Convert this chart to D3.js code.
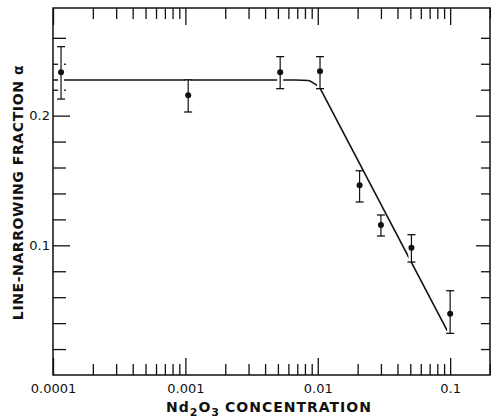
<!DOCTYPE html>
<html>
<head>
<meta charset="utf-8">
<script src="https://cdn.jsdelivr.net/npm/d3@7"></script>
<style>
  html, body { margin: 0; padding: 0; background: #fff; }
  svg { display: block; }
  .tick text { font-family: "DejaVu Sans", sans-serif; font-size: 13px; fill: #111; }
  .tick line { stroke: #111; stroke-width: 1.3; }
  .title { font-family: "DejaVu Sans", sans-serif; font-weight: bold; fill: #111; }
</style>
</head>
<body>
<svg id="chart" width="491" height="418"></svg>
<script>
// Measured line-narrowing fraction vs. Nd2O3 concentration
const concentration = [0.000115, 0.00105, 0.0052, 0.0104, 0.0207, 0.030, 0.051, 0.100];
const alpha         = [0.2334, 0.2157, 0.2334, 0.2342, 0.1463, 0.1157, 0.0982, 0.0473];
const alphaLow      = [0.2128, 0.2028, 0.2208, 0.2208, 0.1334, 0.1072, 0.0871, 0.0321];
const alphaHigh     = [0.2532, 0.2275, 0.2455, 0.2455, 0.1575, 0.1234, 0.1082, 0.0650];

// Guide curve: plateau with rounded knee, then a straight fall-off
const plateauConc  = [0.0001, 0.0068, 0.0085, 0.0095, 0.0104];
const plateauAlpha = [0.2275, 0.2275, 0.2271, 0.2244, 0.2213];
const slopeConc    = [0.0104, 0.095];
const slopeAlpha   = [0.2213, 0.0343];

// Axis ticks
const xMajorTicks = [0.0001, 0.001, 0.01, 0.1];
const xMajorLabels = ["0.0001", "0.001", "0.01", "0.1"];
const xMinorTicks = [];
[0.0001, 0.001, 0.01, 0.1].forEach(d => { for (let m = 2; m <= 9; m++) xMinorTicks.push(+(d * m).toPrecision(3)); });
const yMajorTicks = [0.1, 0.2];
const yMajorLabels = ["0.1", "0.2"];
const yMinorTicks = [0.02, 0.04, 0.06, 0.08, 0.12, 0.14, 0.16, 0.18, 0.22, 0.24, 0.26];

const plotLeft = 53, plotRight = 490, plotTop = 8, plotBottom = 375;

const x = d3.scaleLog().domain([0.0001, 0.2]).range([plotLeft, plotRight]);
const y = d3.scaleLinear().domain([0, 0.283]).range([plotBottom, plotTop]);

const svg = d3.select("#chart");
svg.append("rect").attr("width", 491).attr("height", 418).attr("fill", "#fff");

function addAxis(axis, tx, ty) {
  const g = svg.append("g").attr("transform", `translate(${tx},${ty})`).call(axis);
  g.select(".domain").remove();
  return g;
}

// x axes (bottom with labels, top without), ticks pointing inward
addAxis(d3.axisBottom(x).tickValues(xMajorTicks).tickSize(-17).tickPadding(9)
  .tickFormat((d, i) => xMajorLabels[i]), 0, plotBottom);
addAxis(d3.axisBottom(x).tickValues(xMinorTicks).tickSize(-11).tickFormat(""), 0, plotBottom);
addAxis(d3.axisTop(x).tickValues(xMajorTicks).tickSize(-17).tickFormat(""), 0, plotTop);
addAxis(d3.axisTop(x).tickValues(xMinorTicks).tickSize(-11).tickFormat(""), 0, plotTop);

// y axes (left with labels, right without)
addAxis(d3.axisLeft(y).tickValues(yMajorTicks).tickSize(-17).tickPadding(3)
  .tickFormat((d, i) => yMajorLabels[i]), plotLeft, 0);
addAxis(d3.axisLeft(y).tickValues(yMinorTicks).tickSize(-13).tickFormat(""), plotLeft, 0);
addAxis(d3.axisRight(y).tickValues(yMajorTicks).tickSize(-14).tickFormat(""), plotRight, 0);
addAxis(d3.axisRight(y).tickValues(yMinorTicks).tickSize(-9).tickFormat(""), plotRight, 0);

// frame
svg.append("rect")
  .attr("x", plotLeft).attr("y", plotTop)
  .attr("width", plotRight - plotLeft).attr("height", plotBottom - plotTop)
  .attr("fill", "none").attr("stroke", "#111").attr("stroke-width", 1.5);

// guide curve
const plateauLine = d3.line().x(d => x(d[0])).y(d => y(d[1])).curve(d3.curveMonotoneX);
svg.append("path")
  .datum(d3.zip(plateauConc, plateauAlpha))
  .attr("d", plateauLine)
  .attr("fill", "none").attr("stroke", "#111").attr("stroke-width", 1.5);
const slopeLine = d3.line().x(d => x(d[0])).y(d => y(d[1]));
svg.append("path")
  .datum(d3.zip(slopeConc, slopeAlpha))
  .attr("d", slopeLine)
  .attr("fill", "none").attr("stroke", "#111").attr("stroke-width", 1.6);

// data points with error bars
const pts = concentration.map((c, i) => ({ c, a: alpha[i], lo: alphaLow[i], hi: alphaHigh[i] }));
const cap = 4;
const eb = svg.append("g");
// white knock-out so the curve breaks where it meets an error bar
eb.selectAll("line.halo").data(pts).join("line").attr("class", "halo")
  .attr("x1", d => x(d.c)).attr("x2", d => x(d.c))
  .attr("y1", d => y(d.hi)).attr("y2", d => y(d.lo))
  .attr("stroke", "#fff").attr("stroke-width", 6);
eb.selectAll("line.bar").data(pts).join("line").attr("class", "bar")
  .attr("x1", d => x(d.c)).attr("x2", d => x(d.c))
  .attr("y1", d => y(d.hi)).attr("y2", d => y(d.lo))
  .attr("stroke", "#111").attr("stroke-width", 1.2);
eb.selectAll("line.capHi").data(pts).join("line").attr("class", "capHi")
  .attr("x1", d => x(d.c) - cap).attr("x2", d => x(d.c) + cap)
  .attr("y1", d => y(d.hi)).attr("y2", d => y(d.hi))
  .attr("stroke", "#111").attr("stroke-width", 1.3);
eb.selectAll("line.capLo").data(pts).join("line").attr("class", "capLo")
  .attr("x1", d => x(d.c) - cap).attr("x2", d => x(d.c) + cap)
  .attr("y1", d => y(d.lo)).attr("y2", d => y(d.lo))
  .attr("stroke", "#111").attr("stroke-width", 1.3);
svg.append("g").selectAll("circle").data(pts).join("circle")
  .attr("cx", d => x(d.c)).attr("cy", d => y(d.a)).attr("r", 3)
  .attr("fill", "#111");

// axis titles
const xt = svg.append("text").attr("class", "title")
  .attr("x", 166).attr("y", 411.5)
  .style("font-size", "14px").style("letter-spacing", "1px");
xt.append("tspan").text("Nd");
xt.append("tspan").attr("dy", 4.5).style("font-size", "11px").text("2");
xt.append("tspan").attr("dy", -4.5).text("O");
xt.append("tspan").attr("dy", 4.5).style("font-size", "11px").text("3");
xt.append("tspan").attr("dy", -4.5).attr("x", 225).text("CONCENTRATION");

svg.append("text").attr("class", "title")
  .attr("transform", "translate(23,192.5) rotate(-90)")
  .attr("text-anchor", "middle")
  .style("font-size", "14px").style("letter-spacing", "0.6px")
  .text("LINE-NARROWING FRACTION α");
</script>
</body>
</html>
